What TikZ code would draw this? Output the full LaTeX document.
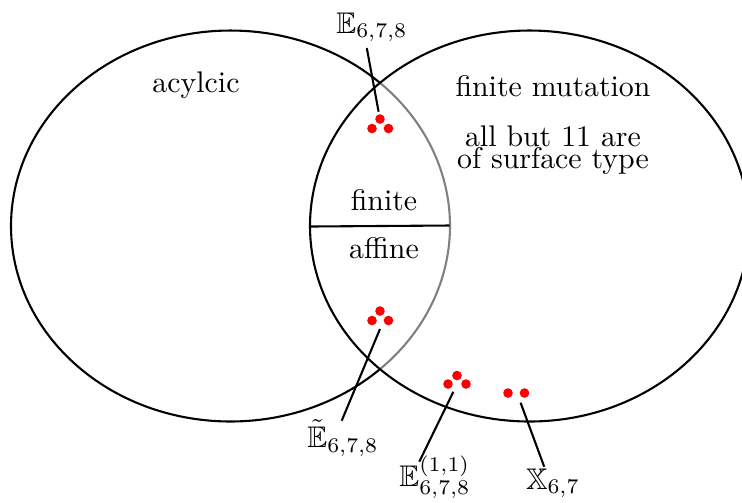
\documentclass[tikz,border=0pt]{standalone}
\usepackage{amsmath}
\usepackage{amssymb}
\usepackage{xcolor}
\usepackage{tikz}

\begin{document}
\begin{tikzpicture}[
    x=0.335pt, y=-0.335pt,
    venn/.style={
        line width=0.7pt
    },
    inner/.style={
        line width=0.7pt,
        gray
    },
    reddot/.style={
        fill=red
    },
    lbl/.style={
        inner sep=1pt,
        align=center
    },
    lead/.style={
        line width=0.7pt
    }
]
\useasboundingbox (0,0) rectangle (742,502);

% the two sets
\coordinate (acycC) at (230.5,226);
\coordinate (mutC) at (529.5,226);
\draw[venn] (acycC) ++(47.07:219.5 and 195.5)
    arc[start angle=47.07, end angle=312.93, x radius=219.5, y radius=195.5];
\draw[inner] (acycC) ++(-47.07:219.5 and 195.5)
    arc[start angle=-47.07, end angle=47.07, x radius=219.5, y radius=195.5];
\draw[venn] (mutC) ellipse [x radius=219.5, y radius=195.5];

% finite / affine split
\coordinate (splitL) at (310,226.5);
\coordinate (splitR) at (449.5,225.5);
\draw[venn] (splitL) -- (splitR);

\node[lbl] (acyc) at (196,85) {acylcic};
\node[lbl] (finmut) at (553,86) {finite mutation};
\node[lbl] (surfA) at (553,136) {all but 11 are};
\node[lbl] (surfB) at (553,161) {of surface type};
\node[lbl] (fin) at (384,200) {finite};
\node[lbl] (aff) at (384,248) {affine};

% exceptional types
\fill[reddot] (380,119) circle (4.8);
\fill[reddot] (372,128.5) circle (4.8);
\fill[reddot] (388.5,128.5) circle (4.8);

\fill[reddot] (380,311) circle (4.8);
\fill[reddot] (372,320.5) circle (4.8);
\fill[reddot] (388.5,320.5) circle (4.8);

\fill[reddot] (457,375.5) circle (4.8);
\fill[reddot] (448,384) circle (4.8);
\fill[reddot] (466,384) circle (4.8);

\fill[reddot] (508,393) circle (4.8);
\fill[reddot] (524.5,393) circle (4.8);

\node[lbl] (Efin) at (372,27) {$\mathbb{E}_{6,7,8}$};
\node[lbl] (Eaff) at (343,438) {$\tilde{\mathbb{E}}_{6,7,8}$};
\node[lbl] (Eell) at (435,477) {$\mathbb{E}_{6,7,8}^{(1,1)}$};
\node[lbl] (Xtype) at (553,483) {$\mathbb{X}_{6,7}$};

\coordinate (EfinS) at (366.8,48);
\coordinate (EfinT) at (378.6,111.7);
\coordinate (EaffS) at (341.7,420.7);
\coordinate (EaffT) at (380,329);
\coordinate (EellS) at (419.3,461.7);
\coordinate (EellT) at (453.4,391.7);
\coordinate (XtypeS) at (544.2,466.7);
\coordinate (XtypeT) at (520.6,402.7);

\draw[lead] (EfinS) -- (EfinT);
\draw[lead] (EaffS) -- (EaffT);
\draw[lead] (EellS) -- (EellT);
\draw[lead] (XtypeS) -- (XtypeT);

\end{tikzpicture}
\end{document}
